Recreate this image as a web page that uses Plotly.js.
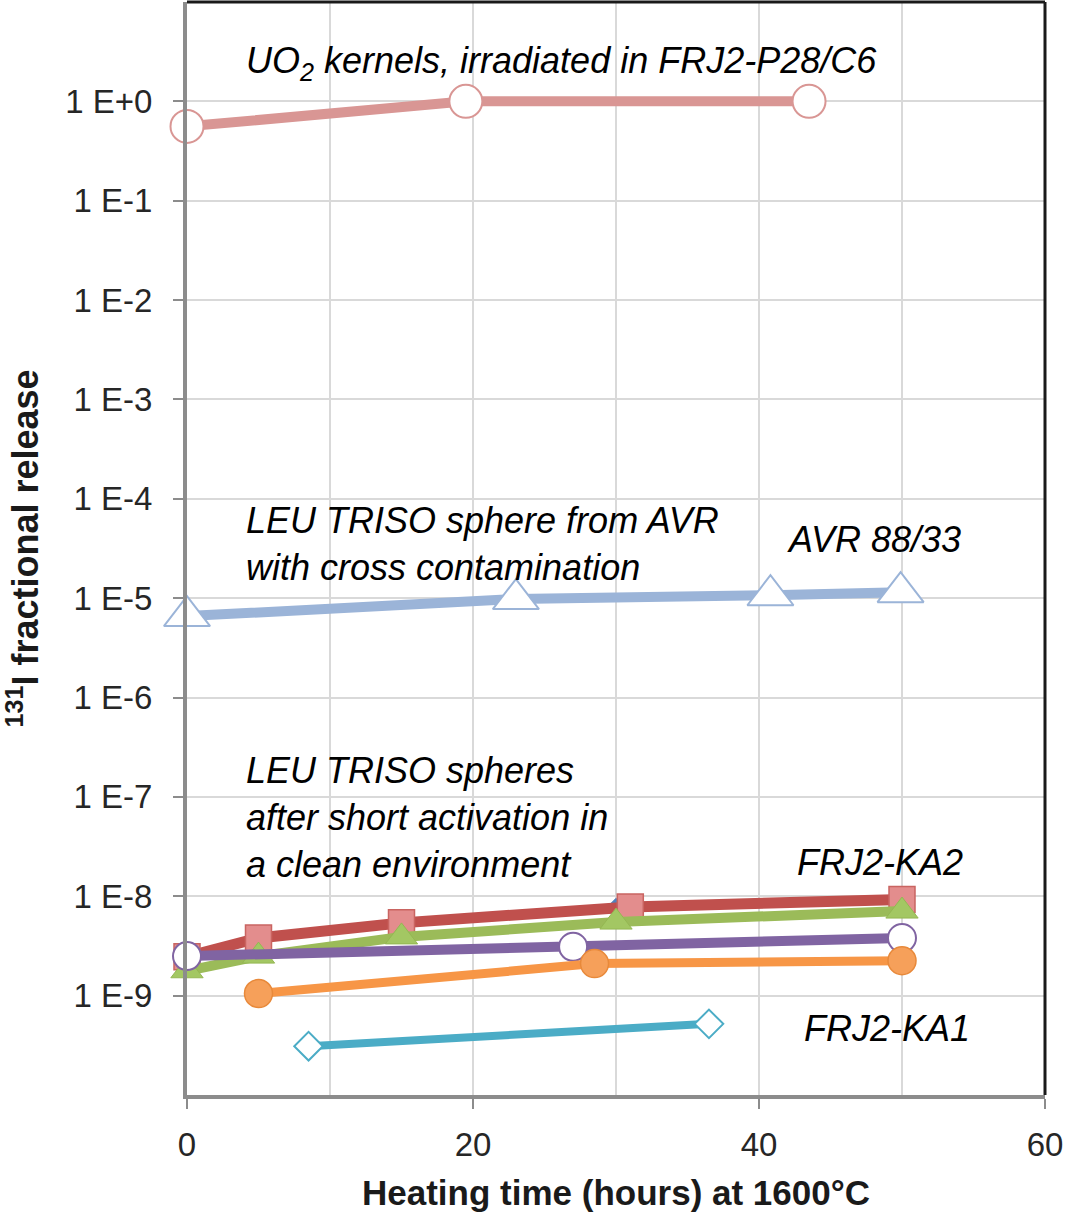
<!DOCTYPE html>
<html>
<head>
<meta charset="utf-8">
<script src="https://cdn.plot.ly/plotly-3.0.1.min.js"></script>
<style>
  html, body { margin: 0; padding: 0; background: #fff; }
  #chart { width: 1065px; height: 1218px; }
</style>
</head>
<body>
<div id="chart"></div>
<script>
// Iodine-131 fractional release vs. heating time at 1600 °C

// UO2 kernels irradiated in FRJ2-P28/C6
const hoursUO2 = [0, 19.5, 43.5];
const releaseUO2 = [0.56, 1.0, 1.0];

// LEU TRISO sphere from AVR (AVR 88/33)
const hoursAVR = [0, 23, 40.8, 49.9];
const releaseAVR = [6.6e-6, 9.8e-6, 1.07e-5, 1.15e-5];

// LEU TRISO spheres after short activation (FRJ2-KA2 group)
const hoursBlue = [0, 5, 15, 30, 50];
const releaseBlue = [2.5e-9, 3.9e-9, 5.6e-9, 8.2e-9, 9.8e-9];

const hoursRed = [0, 5, 15, 31, 50];
const releaseRed = [2.46e-9, 3.8e-9, 5.4e-9, 7.8e-9, 9.3e-9];

const hoursGreen = [0, 5, 15, 30, 50];
const releaseGreen = [1.78e-9, 2.5e-9, 3.9e-9, 5.5e-9, 7.1e-9];

const hoursPurple = [0, 27, 50];
const releasePurple = [2.5e-9, 3.1e-9, 3.8e-9];

const hoursOrange = [5, 28.5, 50];
const releaseOrange = [1.05e-9, 2.1e-9, 2.25e-9];

// FRJ2-KA1
const hoursTeal = [8.5, 36.5];
const releaseTeal = [3.1e-10, 5.2e-10];

// Axis ticks
const yTickVals = [1e-9, 1e-8, 1e-7, 1e-6, 1e-5, 1e-4, 1e-3, 1e-2, 1e-1, 1];
const yTickText = ['1 E-9', '1 E-8', '1 E-7', '1 E-6', '1 E-5', '1 E-4', '1 E-3', '1 E-2', '1 E-1', '1 E+0'];

const FONT = 'Liberation Sans, Arial, Helvetica, sans-serif';

function series(x, y, lineColor, lineWidth, marker) {
  return {
    x: x, y: y, type: 'scatter', mode: 'lines+markers',
    line: { color: lineColor, width: lineWidth },
    marker: marker, cliponaxis: false, showlegend: false, hoverinfo: 'x+y'
  };
}

const traces = [
  series(hoursUO2, releaseUO2, '#D99694', 10,
    { symbol: 'circle', size: 33, color: '#ffffff', line: { color: '#D99694', width: 2 } }),
  series(hoursAVR, releaseAVR, '#9BB4D8', 10,
    { symbol: 'triangle-up', size: 40, color: '#ffffff', line: { color: '#9BB4D8', width: 2 } }),
  series(hoursBlue, releaseBlue, '#4F81BD', 3,
    { symbol: 'diamond', size: 10, color: '#4F81BD', line: { color: '#4F81BD', width: 1 } }),
  series(hoursRed, releaseRed, '#C0504D', 11,
    { symbol: 'square', size: 26, color: '#E38D8D', line: { color: '#C96461', width: 1.5 } }),
  series(hoursGreen, releaseGreen, '#9BBB59', 10,
    { symbol: 'triangle-up', size: 28, color: '#A3C763', line: { color: '#94B752', width: 1 } }),
  series(hoursPurple, releasePurple, '#8064A2', 10,
    { symbol: 'circle', size: 28, color: '#ffffff', line: { color: '#8064A2', width: 2 } }),
  series(hoursOrange, releaseOrange, '#F79646', 9,
    { symbol: 'circle', size: 28, color: '#F6A05A', line: { color: '#E8893A', width: 1.5 } }),
  series(hoursTeal, releaseTeal, '#4BACC6', 8,
    { symbol: 'diamond', size: 22, color: '#ffffff', line: { color: '#4BACC6', width: 2 } })
];

function note(x, y, text) {
  return {
    x: x, y: y, xref: 'x', yref: 'y', text: '<i>' + text + '</i>',
    showarrow: false, xanchor: 'left', yanchor: 'middle', align: 'left',
    font: { family: FONT, size: 36, color: '#000000' }
  };
}

const layout = {
  width: 1065, height: 1218,
  margin: { l: 187, r: 20, t: 2, b: 123 },
  paper_bgcolor: '#ffffff', plot_bgcolor: '#ffffff',
  font: { family: FONT, color: '#262626' },
  xaxis: {
    range: [0, 60], tick0: 0, dtick: 20,
    showgrid: true, gridcolor: '#d9d9d9', gridwidth: 2,
    minor: { dtick: 10, showgrid: true, gridcolor: '#d9d9d9', gridwidth: 2, ticks: '' },
    ticks: 'outside', ticklen: 10, tickwidth: 2, tickcolor: '#8c8c8c',
    showline: true, linecolor: '#8c8c8c', linewidth: 4,
    zeroline: false,
    tickfont: { family: FONT, size: 33, color: '#262626' },
    ticklabelstandoff: 7,
    title: { text: '<b>Heating time (hours) at 1600°C</b>', font: { family: FONT, size: 35, color: '#1a1a1a' }, standoff: 20 }
  },
  yaxis: {
    type: 'log', range: [-10, 1],
    tickmode: 'array', tickvals: yTickVals, ticktext: yTickText,
    showgrid: true, gridcolor: '#d9d9d9', gridwidth: 2,
    ticks: 'outside', ticklen: 10, tickwidth: 2, tickcolor: '#8c8c8c',
    showline: true, linecolor: '#8c8c8c', linewidth: 4,
    zeroline: false,
    tickfont: { family: FONT, size: 33, color: '#262626' },
    ticklabelstandoff: 14,
    title: { text: '<b><sup>131</sup>I fractional release</b>', font: { family: FONT, size: 36, color: '#1a1a1a' }, standoff: 20 }
  },
  shapes: [
    { type: 'line', xref: 'paper', yref: 'paper', x0: 0, x1: 1, y0: 1, y1: 1, line: { color: '#1a1a1a', width: 3 } },
    { type: 'line', xref: 'paper', yref: 'paper', x0: 1, x1: 1, y0: 0, y1: 1, line: { color: '#1a1a1a', width: 3 } }
  ],
  annotations: [
    note(4.0, 0.39, 'UO<sub>2</sub> kernels, irradiated in FRJ2-P28/C6'),
    note(4.0, -4.45, 'LEU TRISO sphere from AVR<br>with cross contamination'),
    note(41.8, -4.41, 'AVR 88/33'),
    note(4.0, -7.21, 'LEU TRISO spheres<br>after short activation in<br>a clean environment'),
    note(42.5, -7.66, 'FRJ2-KA2'),
    note(43.0, -9.33, 'FRJ2-KA1')
  ]
};

Plotly.newPlot('chart', traces, layout, { displayModeBar: false, staticPlot: true });
</script>
</body>
</html>
